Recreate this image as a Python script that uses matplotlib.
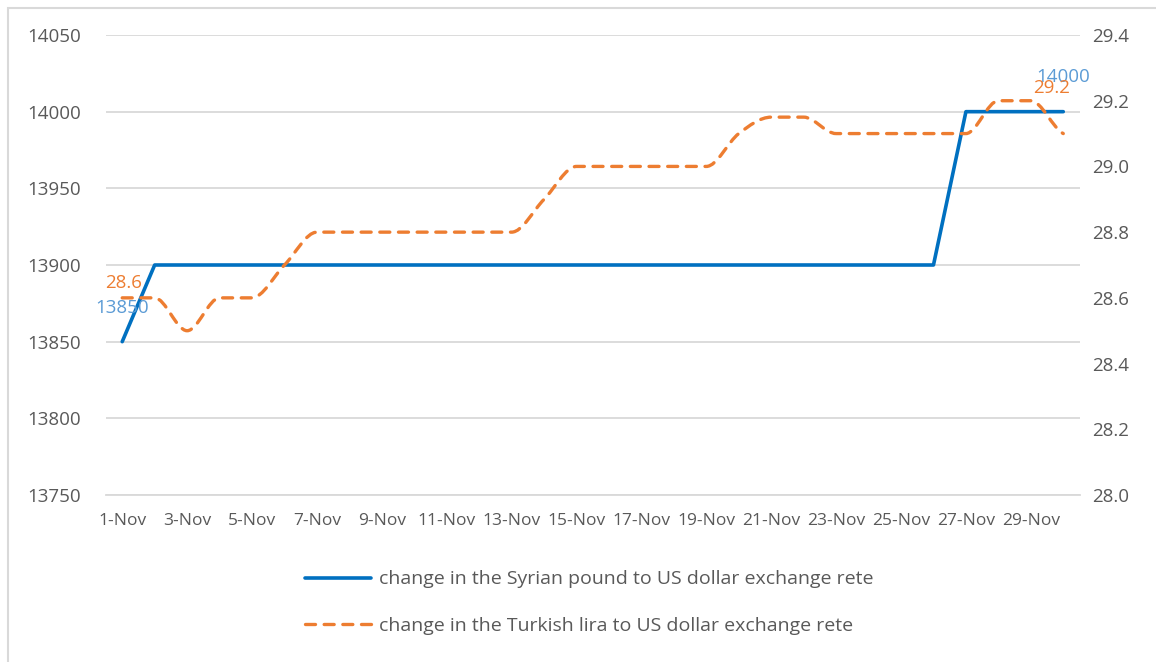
import matplotlib

matplotlib.use("Agg")
import matplotlib.pyplot as plt
from matplotlib.lines import Line2D
from matplotlib.patches import PathPatch, Rectangle
from matplotlib.path import Path

days = [f"{d}-Nov" for d in range(1, 31)]
syrian_pound = [13850] + [13900] * 25 + [14000] * 4
turkish_lira = [28.6, 28.6, 28.5, 28.6, 28.6, 28.7, 28.8, 28.8, 28.8, 28.8,
                28.8, 28.8, 28.8, 28.9, 29.0, 29.0, 29.0, 29.0, 29.0, 29.1,
                29.15, 29.15, 29.1, 29.1, 29.1, 29.1, 29.1, 29.2, 29.2, 29.1]
label_syrian = "change in the Syrian pound to US dollar exchange rete"
label_turkish = "change in the Turkish lira to US dollar exchange rete"

BLUE = "#0070C0"
LIGHT_BLUE = "#5B9BD5"
ORANGE = "#ED7D31"
TEXT = "#595959"
GRID = "#D9D9D9"
FS = 13.5
DASH = (0, (3.0, 2.6))

plt.rcParams["font.family"] = ["Open Sans", "DejaVu Sans"]


def smooth_path(xs, ys):
    # smoothed line drawn as cubic Bezier segments, flat where neighbours are flat
    n = len(xs)
    slopes = [(ys[i + 1] - ys[i]) / (xs[i + 1] - xs[i]) for i in range(n - 1)]
    tang = []
    for i in range(n):
        if i == 0:
            tang.append(0.0)
        elif i == n - 1:
            tang.append(slopes[-1] * 0.5)
        elif slopes[i - 1] * slopes[i] <= 0:
            tang.append(0.0)
        else:
            tang.append((slopes[i - 1] + slopes[i]) / 2)
    verts = [(xs[0], ys[0])]
    codes = [Path.MOVETO]
    for i in range(n - 1):
        h = (xs[i + 1] - xs[i]) / 3
        verts += [(xs[i] + h, ys[i] + tang[i] * h),
                  (xs[i + 1] - h, ys[i + 1] - tang[i + 1] * h),
                  (xs[i + 1], ys[i + 1])]
        codes += [Path.CURVE4] * 3
    return Path(verts, codes)


fig = plt.figure(figsize=(11.56, 6.62), dpi=100)
ax = fig.add_axes([106 / 1156, 1 - 495 / 662, 973.5 / 1156, 460 / 662])
ax2 = ax.twinx()

x = list(range(len(days)))
ax.plot(x, syrian_pound, color=BLUE, lw=2.6, solid_capstyle="round", solid_joinstyle="round", zorder=3)

ax2.add_patch(PathPatch(smooth_path(x, turkish_lira), edgecolor=ORANGE, lw=2.4, linestyle=DASH,
                        capstyle="round", fill=False))

ax.set_xlim(-0.5, len(days) - 0.5)
ax.set_ylim(13750, 14050)
ax.set_yticks(range(13750, 14051, 50))
ax2.set_ylim(28.0, 29.4)
ax2.set_yticks([28.0, 28.2, 28.4, 28.6, 28.8, 29.0, 29.2, 29.4])
ax2.set_yticklabels([f"{v:.1f}" for v in ax2.get_yticks()])
ax.set_xticks(x[::2], days[::2])

ax.grid(axis="y", color=GRID, lw=1.3)
ax.set_axisbelow(True)
for a in (ax, ax2):
    for s in a.spines.values():
        s.set_visible(False)
ax.spines["bottom"].set_visible(True)
ax.spines["bottom"].set_color(GRID)
ax.spines["bottom"].set_linewidth(1.3)
ax.tick_params(axis="y", length=0, pad=18, labelsize=FS, labelcolor=TEXT)
ax.tick_params(axis="x", length=0, pad=13, labelsize=FS - 1, labelcolor=TEXT)
ax2.tick_params(axis="y", length=0, pad=9, labelsize=FS, labelcolor=TEXT)

# data labels
ax.annotate(f"{syrian_pound[0]}", (x[0], syrian_pound[0]), xytext=(0, 24), textcoords="offset points",
            ha="center", va="center", color=LIGHT_BLUE, fontsize=FS)
ax2.annotate(f"{turkish_lira[0]}", (x[0], turkish_lira[0]), xytext=(1, 11), textcoords="offset points",
             ha="center", va="center", color=ORANGE, fontsize=FS)
ax.annotate(f"{syrian_pound[-1]}", (x[-1], syrian_pound[-1]), xytext=(0, 25), textcoords="offset points",
            ha="center", va="center", color=LIGHT_BLUE, fontsize=FS)
ax2.annotate(f"{turkish_lira[-2]}", (x[-2], turkish_lira[-2]), xytext=(15, 9), textcoords="offset points",
             ha="center", va="center", color=ORANGE, fontsize=FS)

handles = [
    Line2D([], [], color=BLUE, lw=2.6, solid_capstyle="round"),
    Line2D([], [], color=ORANGE, lw=2.4, linestyle=DASH, dash_capstyle="round"),
]
fig.legend(handles, [label_syrian, label_turkish], loc="center", bbox_to_anchor=(589 / 1156, 1 - 602.5 / 662),
           frameon=False, fontsize=14, labelcolor=TEXT, handlelength=3.4, handletextpad=0.4,
           labelspacing=1.45)

fig.patches.append(Rectangle((8 / 1156, -0.02), 1.05, 1 - 8 / 662 + 0.02, transform=fig.transFigure,
                             fill=False, edgecolor=GRID, lw=1.5))

fig.savefig("out.png", dpi=100)
